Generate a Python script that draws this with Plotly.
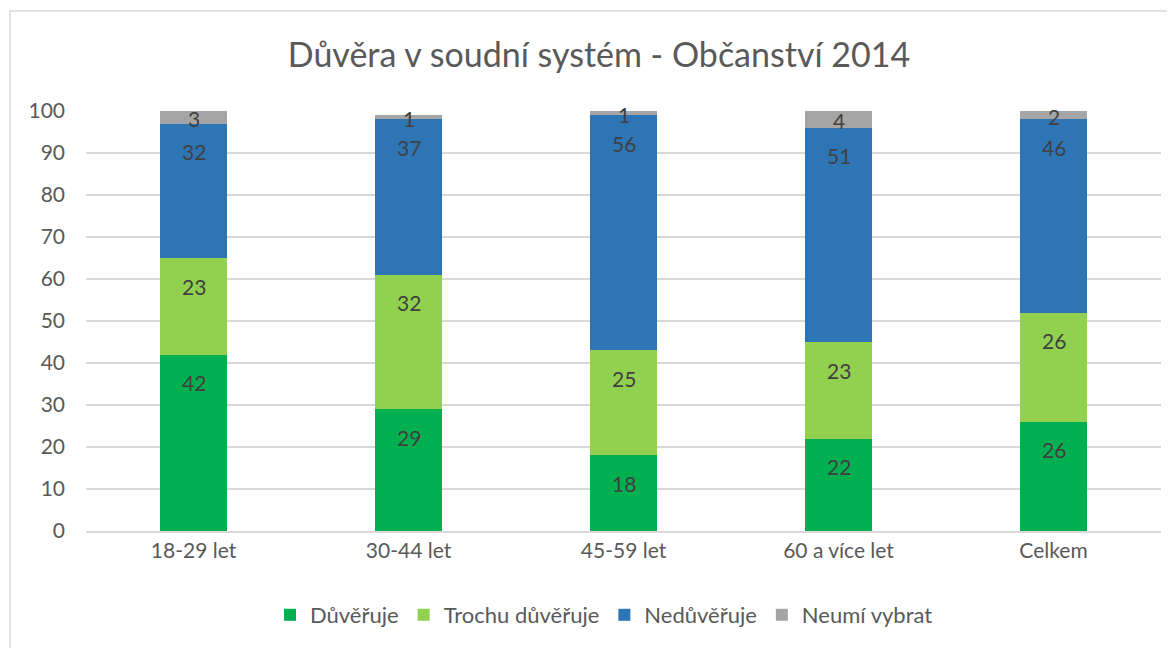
import plotly.graph_objects as go

categories = ["18-29 let", "30-44 let", "45-59 let", "60 a více let", "Celkem"]
duveruje = [42, 29, 18, 22, 26]
trochu = [23, 32, 25, 23, 26]
neduveruje = [32, 37, 56, 51, 46]
neumi = [3, 1, 1, 4, 2]

series = [
    ("Důvěřuje", duveruje, "#00B050"),
    ("Trochu důvěřuje", trochu, "#92D050"),
    ("Nedůvěřuje", neduveruje, "#2E75B6"),
    ("Neumí vybrat", neumi, "#A5A5A5"),
]

FONT = "Lato, 'Open Sans', sans-serif"
W, H = 1167, 640
L, R, T, B = 78, 14, 103, 117
PW, PH = W - L - R, H - T - B

fig = go.Figure()
annotations = []
base = [0] * len(categories)
for si, (name, vals, col) in enumerate(series):
    fig.add_trace(go.Bar(
        name=name, x=categories, y=vals,
        marker=dict(color=col, line=dict(width=0)),
    ))
    for i, (c, v) in enumerate(zip(categories, vals)):
        top = base[i] + v
        if si == len(series) - 1:
            ypos, shift = base[i] + v / 2, -1
        else:
            ypos, shift = top, -28
        annotations.append(dict(
            x=c, y=ypos, xref="x", yref="y", text=str(v), showarrow=False,
            yshift=shift, yanchor="middle",
            font=dict(size=21, color="#404040", family=FONT)))
        base[i] = top

fig.update_layout(
    barmode="stack",
    bargap=0.69,
    width=W, height=H,
    margin=dict(l=L, r=R, t=T, b=B),
    paper_bgcolor="white", plot_bgcolor="white",
    font=dict(family=FONT, color="#595959"),
    title=dict(text="Důvěra v soudní systém - Občanství 2014",
               x=(599 - 8) / W, xanchor="center", y=1 - (55 - 8) / H, yanchor="middle",
               xref="container", yref="container",
               font=dict(size=34, color="#595959", family=FONT)),
    legend=dict(orientation="h", x=(596 - L) / PW, xanchor="center", y=-(615 - 531) / PH, yanchor="middle",
                font=dict(size=22, color="#595959", family=FONT),
                traceorder="normal", itemwidth=30),
    xaxis=dict(showgrid=False, showline=True, linecolor="#D9D9D9", linewidth=1.5,
               tickfont=dict(size=21, color="#595959", family=FONT), ticks=""),
    yaxis=dict(range=[0, 100], dtick=10, showgrid=True, gridcolor="#D9D9D9", gridwidth=1.5,
               zeroline=False, showline=False, ticks="", ticklabelstandoff=20,
               tickfont=dict(size=21, color="#595959", family=FONT)),
    annotations=annotations,
    shapes=[dict(type="rect", xref="paper", yref="paper",
                 x0=(2 - L) / PW, x1=(W + 10 - L) / PW,
                 y0=(523 - 660) / PH, y1=(523 - 3) / PH,
                 line=dict(color="#D9D9D9", width=1.5), fillcolor="rgba(0,0,0,0)", layer="below")],
)

fig.write_html("out.html")
